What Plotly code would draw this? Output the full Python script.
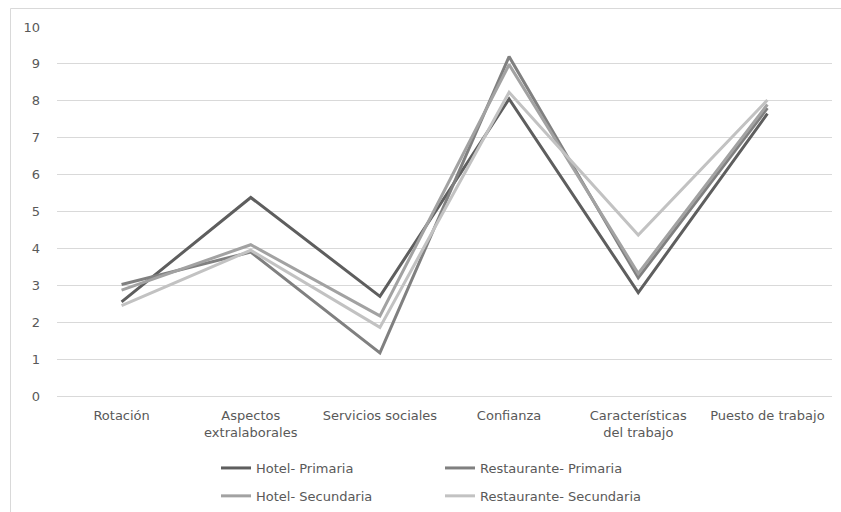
import plotly.graph_objects as go

# Dimensions evaluated for each group
categories = [
    "Rotación",
    "Aspectos<br>extralaborales",
    "Servicios sociales",
    "Confianza",
    "Características<br>del trabajo",
    "Puesto de trabajo",
]

hotel_primaria = [2.55, 5.38, 2.7, 8.05, 2.8, 7.65]
restaurante_primaria = [3.02, 3.9, 1.17, 9.2, 3.2, 7.8]
hotel_secundaria = [2.87, 4.1, 2.17, 8.98, 3.32, 7.9]
restaurante_secundaria = [2.45, 3.95, 1.86, 8.23, 4.36, 8.02]

y_ticks = list(range(0, 11))

series = [
    ("Hotel- Primaria", hotel_primaria, "#5e5e5e", "legend"),
    ("Restaurante- Primaria", restaurante_primaria, "#808080", "legend2"),
    ("Hotel- Secundaria", hotel_secundaria, "#a2a2a2", "legend"),
    ("Restaurante- Secundaria", restaurante_secundaria, "#c2c2c2", "legend2"),
]

FONT = "DejaVu Sans"
TXT = "#595959"

fig = go.Figure()
for name, vals, color, leg in series:
    fig.add_trace(go.Scatter(
        x=categories, y=vals, name=name, mode="lines",
        line=dict(color=color, width=3),
        legend=leg, legendgroup=name,
    ))

W, H = 841, 512
ml, mr, mt, mb = 57, 9, 27, 116
pw = W - ml - mr
ph = H - mt - mb

def px_x(p):
    return (p - ml) / pw

def px_y(p):
    return (H - mb - p) / ph

legend_common = dict(
    orientation="v",
    font=dict(family=FONT, size=13, color=TXT),
    bgcolor="rgba(0,0,0,0)",
    tracegroupgap=8,
    xanchor="left", yanchor="top",
    itemclick=False, itemdoubleclick=False,
)

fig.update_layout(
    width=W, height=H,
    margin=dict(l=ml, r=mr, t=mt, b=mb, autoexpand=False),
    paper_bgcolor="white", plot_bgcolor="white",
    font=dict(family=FONT, size=13, color=TXT),
    showlegend=True,
    legend=dict(x=px_x(216), y=px_y(453), **legend_common),
    legend2=dict(x=px_x(440), y=px_y(453), **legend_common),
    xaxis=dict(
        showgrid=False, showline=False, zeroline=False,
        ticks="", tickfont=dict(family=FONT, size=13, color=TXT),
        ticklabelstandoff=10,
        range=[-0.5, len(categories) - 0.5],
    ),
    yaxis=dict(
        range=[0, 10], tickvals=y_ticks,
        showgrid=True, gridcolor="#d9d9d9", gridwidth=1,
        zeroline=True, zerolinecolor="#d9d9d9", zerolinewidth=1,
        showline=False, ticks="",
        tickfont=dict(family=FONT, size=13, color=TXT),
        ticklabelstandoff=16,
    ),
    shapes=[dict(
        type="rect", xref="paper", yref="paper",
        x0=px_x(10.5), x1=px_x(850), y0=px_y(520), y1=px_y(8.5),
        line=dict(color="#d9d9d9", width=1), fillcolor="rgba(0,0,0,0)",
        layer="below",
    )],
)

fig.write_html("out.html")
